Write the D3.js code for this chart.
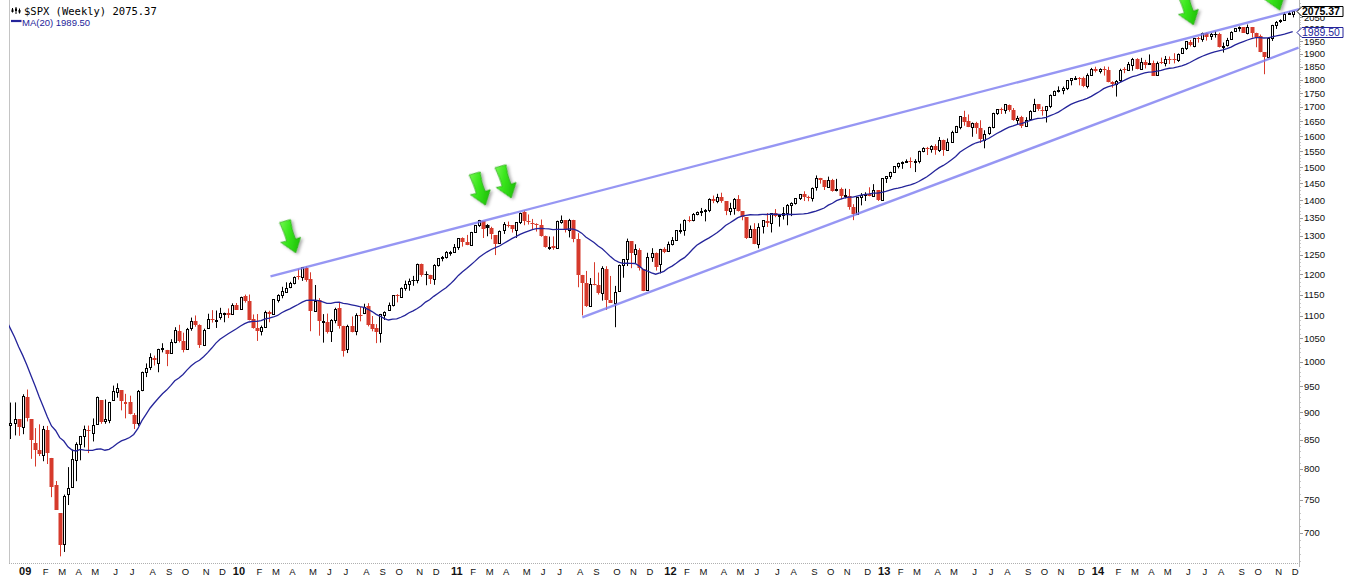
<!DOCTYPE html>
<html><head><meta charset="utf-8">
<script src="https://cdn.jsdelivr.net/npm/d3@7"></script>
<style>body{margin:0;background:#fff}svg{display:block}</style>
</head><body><svg id="chart" width="1357" height="583"></svg>
<script>
// ---------------- DATA ----------------
const firstWeekEnd = "2008-12-12";   // weekly bars, one per week
// 20 weekly closes before the first bar (Jul 25 - Dec 5 2008), needed for MA(20)
const priorCloses = [1257.76,1260.31,1296.32,1298.20,1292.20,1282.83,1242.31,1251.70,1255.08,1213.27,
  1099.23,899.22,940.55,876.77,968.75,930.99,873.29,800.03,896.24,876.07];

const opens = [
 876.0,879.7,887.2,
 872.4,929.2,887.1,845.0,832.5,823.1,868.2,818.5,773.3,729.6,684.0,758.8,771.0,814.9,842.3,856.9,868.3,862.8,879.2,922.9,884.2,886.1,923.3,940.0,942.5,918.1,920.0,894.3,879.6,942.1,979.0,990.2,1008.9,998.2,1026.6,1025.2,1019.4,1041.5,1066.6,1043.7,1026.9,1072.1,1088.4,1080.4,1036.2,1072.6,1094.1,1091.2,1098.9,1105.5,1107.8,1105.0,1125.5,
 1116.6,1146.0,1136.0,1092.4,1073.9,1065.5,1076.0,1110.0,1105.4,1138.4,1148.5,1157.3,1167.7,1178.7,1194.9,1192.1,1217.1,1188.6,1111.6,1136.5,1087.3,1087.3,1065.8,1091.2,1117.7,1076.4,1028.1,1077.2,1066.0,1102.9,1107.5,1122.8,1081.2,1073.4,1062.9,1102.6,1113.4,1126.6,1148.6,1144.9,1165.3,1176.8,1184.7,1185.7,1225.6,1200.4,1198.1,1189.1,1223.2,1241.8,1243.7,1254.7,
 1257.6,1270.8,1293.2,1283.3,1276.5,1311.9,1329.6,1340.4,1328.6,1322.7,1301.2,1281.6,1315.5,1329.5,1329.0,1315.9,1337.9,1365.2,1340.2,1334.8,1333.1,1331.1,1300.3,1271.3,1272.5,1268.4,1339.6,1343.3,1315.9,1344.3,1292.6,1198.5,1179.2,1123.6,1177.0,1173.0,1153.5,1214.0,1136.9,1131.2,1158.2,1224.5,1238.7,1285.0,1253.2,1263.2,1212.2,1161.4,1244.3,1255.1,1225.7,1265.0,
 1258.9,1277.8,1290.2,1315.3,1316.2,1344.3,1342.6,1361.2,1365.2,1369.6,1370.8,1404.2,1397.1,1408.5,1397.5,1370.3,1378.5,1403.4,1368.8,1351.9,1295.7,1318.9,1277.8,1325.9,1342.4,1334.9,1362.3,1354.7,1356.5,1362.3,1385.9,1391.0,1405.9,1418.1,1411.1,1406.5,1438.4,1465.4,1460.3,1440.9,1461.4,1429.0,1433.2,1412.0,1414.0,1380.1,1359.9,1409.0,1416.3,1418.1,1413.5,1430.1,
 1402.4,1466.5,1472.1,1486.0,1503.0,1513.2,1517.9,1519.8,1515.6,1518.2,1551.2,1560.7,1556.9,1569.2,1553.3,1588.8,1555.3,1582.3,1614.4,1632.1,1665.7,1652.6,1631.7,1644.7,1626.7,1588.8,1609.8,1632.0,1679.6,1692.1,1690.3,1708.0,1691.7,1656.0,1664.3,1635.9,1656.9,1688.0,1709.9,1691.7,1690.5,1702.6,1745.2,1759.4,1762.0,1769.7,1798.8,1804.8,1806.6,1806.6,1775.4,1818.3,
 1842.0,1832.3,1842.3,1837.8,1791.0,1782.7,1798.0,1838.8,1836.8,1857.7,1878.3,1841.1,1867.7,1859.2,1865.1,1816.3,1865.8,1864.2,1879.4,1880.0,1876.7,1902.0,1923.9,1948.0,1930.0,1962.9,1960.8,1984.2,1969.8,1978.7,1979.0,1926.2,1933.4,1958.4,1992.6,2004.1,2007.2,1986.0,2009.1,1982.8,1971.0,1905.7,1886.8,1962.9,2018.2,2032.4,2039.7,2064.7,2065.8
];
const highs = [
 918.6,918.9,887.4,
 934.7,943.9,887.1,871.0,877.9,875.0,875.0,818.5,780.1,729.6,758.3,803.0,833.0,845.6,856.9,875.6,875.6,888.7,930.2,922.9,924.6,920.0,951.7,956.2,942.5,935.5,931.9,898.7,943.0,979.8,996.7,1018.0,1013.1,1027.6,1039.5,1025.2,1048.2,1074.8,1080.2,1062.6,1073.2,1096.6,1101.4,1081.3,1071.5,1105.4,1113.7,1112.8,1119.1,1107.9,1117.7,1129.6,1130.4,
 1145.4,1150.4,1150.5,1103.7,1104.7,1078.5,1112.4,1112.3,1139.0,1151.1,1169.2,1180.2,1181.4,1194.7,1213.9,1217.3,1219.8,1205.1,1173.6,1141.9,1104.5,1105.7,1093.0,1119.2,1131.2,1078.0,1080.3,1099.1,1106.4,1120.9,1128.7,1130.0,1100.1,1081.6,1105.1,1110.9,1131.5,1148.9,1151.4,1167.7,1184.4,1189.4,1196.1,1227.1,1227.1,1207.4,1198.9,1225.6,1240.4,1246.7,1259.4,1260.0,
 1278.2,1293.5,1296.1,1302.7,1311.0,1330.0,1344.1,1340.4,1332.3,1325.0,1301.2,1314.8,1337.9,1339.5,1329.0,1337.5,1364.6,1370.6,1359.4,1346.8,1334.6,1345.2,1300.6,1298.3,1298.6,1342.0,1356.5,1343.3,1347.0,1344.3,1307.4,1198.6,1208.5,1190.7,1230.7,1204.4,1220.4,1220.4,1195.9,1171.4,1224.6,1238.3,1292.7,1285.0,1277.6,1267.0,1212.2,1255.1,1267.1,1255.8,1265.4,1269.4,
 1284.6,1296.8,1315.5,1333.5,1345.3,1354.3,1363.4,1367.8,1378.0,1374.8,1405.9,1414.0,1419.2,1422.4,1397.5,1392.8,1406.6,1415.3,1368.8,1351.9,1328.5,1334.9,1334.7,1343.3,1363.5,1362.2,1374.8,1356.8,1380.4,1389.2,1394.2,1406.3,1418.7,1426.7,1413.5,1438.0,1474.5,1467.1,1460.3,1470.9,1464.0,1464.0,1437.6,1434.3,1433.4,1388.8,1409.2,1421.2,1423.7,1438.6,1448.0,1430.1,
 1466.5,1472.3,1486.0,1503.3,1514.4,1518.3,1524.7,1530.9,1525.3,1552.5,1563.6,1564.9,1570.3,1573.7,1597.4,1588.8,1592.6,1618.5,1635.0,1667.5,1687.2,1674.2,1646.5,1648.7,1654.2,1620.1,1632.1,1680.2,1693.1,1698.4,1709.7,1709.2,1696.8,1669.5,1669.5,1664.8,1689.0,1729.9,1711.2,1701.9,1703.4,1745.3,1759.8,1775.2,1774.5,1798.2,1804.8,1813.6,1810.0,1811.5,1823.8,1844.9,
 1849.4,1843.2,1850.8,1849.3,1794.2,1798.8,1841.7,1847.5,1867.9,1883.6,1882.4,1884.0,1875.9,1897.3,1873.2,1869.6,1884.9,1891.3,1889.1,1902.2,1901.3,1924.0,1949.5,1955.6,1963.9,1968.2,1985.6,1985.6,1983.9,1991.4,1984.9,1945.2,1964.0,1991.0,2005.0,2011.2,2007.7,2019.3,2009.1,1985.2,1977.6,1905.7,1965.3,2018.2,2034.3,2041.3,2071.5,2075.8,2075.8
];
const lows = [
 851.4,857.9,857.1,
 860.0,883.2,817.0,804.0,821.7,812.9,808.2,754.3,734.5,666.8,672.9,742.0,771.0,779.8,814.5,836.7,826.8,847.1,878.9,878.9,878.9,880.0,923.3,928.0,903.8,888.9,896.4,869.3,875.3,940.6,968.7,983.0,992.4,978.5,1019.9,991.0,1017.4,1039.3,1041.2,1019.9,1025.2,1066.9,1075.8,1029.4,1033.4,1072.6,1085.2,1073.1,1091.8,1085.9,1095.4,1102.5,1114.8,
 1114.0,1131.4,1090.2,1071.6,1044.5,1056.5,1075.9,1086.0,1105.4,1131.6,1141.5,1156.3,1165.8,1175.1,1186.8,1183.7,1181.6,1065.8,1111.6,1055.9,1040.8,1060.7,1042.2,1083.6,1071.6,1010.9,1018.4,1063.3,1056.9,1088.0,1104.6,1076.6,1065.6,1039.7,1040.9,1091.1,1113.4,1122.3,1131.9,1144.9,1159.7,1159.7,1171.7,1177.7,1194.1,1173.0,1176.0,1174.0,1219.5,1232.9,1240.1,1247.4,
 1257.6,1262.7,1271.3,1275.1,1276.5,1311.0,1324.6,1294.3,1299.0,1291.0,1249.1,1281.6,1305.3,1322.9,1309.1,1294.7,1332.5,1329.2,1331.1,1318.5,1311.8,1297.9,1268.5,1262.7,1262.9,1268.4,1333.5,1309.3,1295.9,1282.9,1168.1,1101.5,1121.1,1121.1,1172.9,1150.5,1136.1,1114.2,1131.1,1074.8,1158.2,1191.5,1220.9,1215.4,1226.6,1209.4,1158.6,1161.4,1231.5,1209.5,1202.4,1254.1,
 1258.9,1274.4,1290.2,1306.1,1300.5,1337.5,1340.0,1357.0,1354.9,1340.0,1365.9,1391.7,1391.6,1392.9,1357.4,1357.4,1358.8,1367.8,1343.1,1291.7,1295.7,1277.8,1266.7,1306.6,1324.4,1309.3,1351.6,1325.4,1345.1,1329.2,1354.7,1387.6,1401.0,1398.0,1397.4,1396.6,1428.6,1449.6,1430.5,1439.0,1425.5,1426.3,1403.3,1405.9,1373.0,1343.4,1359.9,1385.4,1398.1,1411.9,1413.5,1398.1,
 1398.1,1451.6,1463.8,1482.3,1496.3,1495.0,1513.5,1497.3,1485.0,1512.0,1547.4,1538.6,1546.2,1539.5,1548.2,1536.0,1555.3,1581.3,1614.4,1623.5,1635.5,1630.7,1598.2,1608.1,1577.7,1560.3,1604.6,1626.7,1672.8,1676.0,1676.9,1683.9,1652.6,1639.4,1627.5,1633.4,1656.9,1687.9,1687.1,1670.4,1646.5,1696.6,1740.5,1752.7,1746.2,1761.6,1779.1,1798.8,1779.1,1772.3,1767.9,1818.3,
 1827.7,1823.7,1815.5,1790.3,1770.5,1737.9,1791.8,1824.6,1836.8,1834.4,1839.6,1839.5,1842.6,1859.2,1814.4,1814.4,1859.7,1850.6,1859.8,1862.4,1868.1,1900.5,1915.0,1929.1,1925.8,1944.7,1948.0,1952.9,1955.5,1965.1,1925.1,1904.8,1928.8,1958.4,1988.4,1990.1,1985.2,1978.6,1965.0,1926.0,1906.1,1820.7,1886.8,1951.4,2001.0,2025.9,2034.2,2062.5,2049.6
];
const closes = [
 879.73,887.88,872.80,
 931.80,890.35,850.12,831.95,825.88,868.60,826.84,770.05,735.09,683.38,756.55,768.54,815.94,842.50,856.56,869.60,866.23,877.52,929.23,882.88,887.00,919.14,940.09,946.21,921.23,918.90,896.42,879.13,940.38,979.26,987.48,1010.48,1004.09,1026.13,1028.93,1016.40,1042.73,1068.30,1044.38,1025.21,1071.49,1087.68,1079.60,1036.19,1069.30,1093.48,1091.38,1091.49,1105.98,1106.41,1102.47,1126.48,1115.10,
 1144.98,1136.03,1091.76,1073.87,1066.19,1075.51,1109.17,1104.49,1138.70,1149.99,1159.90,1166.59,1178.10,1194.37,1192.13,1217.28,1186.69,1110.88,1135.68,1087.69,1089.41,1064.88,1091.60,1117.51,1076.76,1022.58,1077.96,1064.88,1102.66,1101.60,1121.64,1079.25,1071.69,1064.59,1104.51,1109.55,1125.59,1148.67,1146.24,1165.15,1176.19,1183.08,1183.26,1225.85,1199.21,1199.73,1189.40,1224.71,1240.40,1243.91,1256.77,1257.64,
 1271.50,1293.24,1283.35,1276.34,1310.87,1329.15,1343.01,1319.88,1321.15,1304.28,1279.20,1313.80,1332.41,1328.17,1319.68,1337.38,1363.61,1340.20,1337.77,1333.27,1331.10,1300.16,1270.98,1271.50,1268.45,1339.67,1343.80,1316.14,1345.02,1292.28,1199.38,1178.81,1123.53,1176.80,1173.97,1154.23,1216.01,1136.43,1131.42,1155.46,1224.58,1238.25,1285.09,1253.23,1263.85,1215.65,1158.67,1244.28,1255.19,1219.66,1265.33,1257.60,
 1277.81,1289.09,1315.38,1316.33,1344.90,1342.64,1361.23,1365.74,1369.63,1370.87,1404.17,1397.11,1408.47,1398.08,1370.26,1378.53,1403.36,1369.10,1353.39,1295.22,1317.82,1278.04,1325.66,1342.84,1335.02,1362.16,1354.68,1356.78,1362.66,1385.97,1390.99,1405.87,1418.16,1411.13,1406.58,1437.92,1465.77,1460.15,1440.67,1460.93,1428.59,1433.19,1411.94,1414.20,1379.85,1359.88,1409.15,1416.18,1418.07,1413.58,1430.15,1402.43,
 1466.47,1472.05,1485.98,1502.96,1513.17,1517.93,1519.79,1515.60,1518.20,1551.18,1560.70,1556.89,1569.19,1553.28,1588.85,1555.25,1582.24,1614.42,1633.70,1667.47,1649.60,1630.74,1643.38,1626.73,1592.43,1606.28,1631.89,1680.19,1692.09,1691.65,1709.67,1691.42,1655.83,1663.50,1632.97,1655.17,1687.99,1709.91,1691.75,1690.50,1703.20,1744.50,1759.77,1761.64,1770.61,1798.18,1804.76,1805.81,1805.09,1775.32,1818.32,1841.40,
 1831.37,1842.37,1838.70,1790.29,1782.59,1797.02,1838.63,1836.25,1859.45,1878.04,1841.13,1866.52,1857.62,1865.09,1815.69,1864.85,1863.40,1881.14,1878.48,1877.86,1900.53,1923.57,1949.44,1936.16,1962.87,1960.96,1985.44,1967.57,1978.22,1978.34,1925.15,1931.59,1955.06,1988.40,2003.37,2007.71,1985.54,2010.40,1982.85,1967.90,1906.13,1886.76,1964.58,2018.05,2031.92,2039.82,2063.50,2067.56,2075.37
];

const yTickValues = [700,750,800,850,900,950,1000,1050,1100,1150,1200,1250,1300,1350,1400,1450,1500,1550,1600,1650,1700,1750,1800,1850,1900,1950,2000,2050];
const monthLetters = ["J","F","M","A","M","J","J","A","S","O","N","D"];
const titleText = "$SPX (Weekly) 2075.37";
const maPeriod = 20;
// trend lines drawn on the chart: [date, price] end points
const upperTrend = [["2010-02-28", 1195], ["2015-01-04", 2098]];
const lowerTrend = [["2011-08-13", 1097], ["2014-12-15", 1924]];
// green annotation arrows: tip position [date, price]
const arrowTips = [["2010-04-12", 1255], ["2011-03-01", 1386], ["2011-04-14", 1407], ["2014-06-19", 2018], ["2014-11-13", 2081]];

// ---------------- CHART ----------------
const svg = d3.select("#chart");
const parse = d3.utcParse("%Y-%m-%d");
const n = closes.length;
const d0 = parse(firstWeekEnd);
const dates = d3.range(n).map(i => d3.utcDay.offset(d0, 7 * i));
const L = 9, R = 1299, T = 0, B = 563;
const RED = "#d63a2c", NAVY = "#24249a";

const x = d3.scaleUtc().domain([dates[0], dates[n - 1]]).range([10.4, 1292.7]);
const y = d3.scaleLog().domain([657.6, 2112]).range([B, 3]);

const defs = svg.append("defs");
defs.append("clipPath").attr("id", "plotClip").append("rect")
  .attr("x", L).attr("y", T).attr("width", R - L).attr("height", B - T);
const grad = defs.append("linearGradient").attr("id", "arrowGrad")
  .attr("x1", 0).attr("y1", 0).attr("x2", 1).attr("y2", 1);
grad.append("stop").attr("offset", "0%").attr("stop-color", "#8cff66");
grad.append("stop").attr("offset", "45%").attr("stop-color", "#39e61c");
grad.append("stop").attr("offset", "100%").attr("stop-color", "#14b000");
const flt = defs.append("filter").attr("id", "shadow").attr("x", "-50%").attr("y", "-50%").attr("width", "200%").attr("height", "200%");
flt.append("feDropShadow").attr("dx", 1.5).attr("dy", 2).attr("stdDeviation", 1.4)
  .attr("flood-color", "#000").attr("flood-opacity", 0.35);

// frame / axes
svg.append("line").attr("x1", L + 0.5).attr("x2", L + 0.5).attr("y1", 0).attr("y2", B)
  .attr("stroke", "#c4c4c4");
svg.append("line").attr("x1", R + 0.5).attr("x2", R + 0.5).attr("y1", 0).attr("y2", B + 4)
  .attr("stroke", "#b4b4b4");
svg.append("line").attr("x1", L).attr("x2", R).attr("y1", B + 0.5).attr("y2", B + 0.5)
  .attr("stroke", "#b0b0b0").attr("stroke-dasharray", "1,1");

// minor y ticks (dotted look)
const yMinor = d3.range(660, 2111, 10);
svg.append("g").selectAll("line").data(yMinor).join("line")
  .attr("x1", R + 1).attr("x2", R + 2).attr("y1", d => Math.round(y(d)) + 0.5).attr("y2", d => Math.round(y(d)) + 0.5)
  .attr("stroke", "#c8c8c8");
// major y ticks + labels
const yAxisG = svg.append("g");
yAxisG.selectAll("line").data(yTickValues).join("line")
  .attr("x1", R + 1).attr("x2", R + 4).attr("y1", d => Math.round(y(d)) + 0.5).attr("y2", d => Math.round(y(d)) + 0.5)
  .attr("stroke", "#999");
yAxisG.selectAll("text").data(yTickValues).join("text")
  .attr("x", R + 5).attr("y", d => y(d)).attr("dy", "0.35em")
  .attr("font-family", "Liberation Sans, Arial, sans-serif").attr("font-size", "9.5px")
  .attr("fill", "#111").text(d => d);

// x labels at first bar of each month
const xLabels = [];
for (let i = 1; i < n; i++) {
  if (dates[i].getUTCMonth() !== dates[i - 1].getUTCMonth()) {
    const m = dates[i].getUTCMonth();
    xLabels.push({ d: dates[i], year: m === 0,
      text: m === 0 ? String(dates[i].getUTCFullYear()).slice(2) : monthLetters[m] });
  }
}
svg.append("g").selectAll("text").data(xLabels).join("text")
  .attr("x", d => x(d.d) + 2.5).attr("y", 575).attr("text-anchor", "middle")
  .attr("font-family", "Liberation Sans, Arial, sans-serif")
  .attr("font-size", d => d.year ? "11px" : "9.5px")
  .attr("font-weight", d => d.year ? "bold" : "normal")
  .attr("fill", "#111").text(d => d.text);

// candles
const cg = svg.append("g").attr("clip-path", "url(#plotClip)");
const bars = d3.range(n).map(i => {
  const prev = i > 0 ? closes[i - 1] : priorCloses[priorCloses.length - 1];
  return { i, d: dates[i], o: opens[i], h: highs[i], l: lows[i], c: closes[i],
           col: closes[i] >= prev ? "#000" : RED, hollow: closes[i] >= opens[i] };
});
bars.forEach(b => {
  const cx = Math.round(x(b.d)) + 0.5;
  const hi = Math.max(b.h, b.o, b.c), lo = Math.min(b.l, b.o, b.c);
  const yTop = y(Math.max(b.o, b.c)), yBot = y(Math.min(b.o, b.c));
  if (b.hollow) {
    const top = Math.round(yTop) + 0.5;
    const bot = Math.max(top + 1, Math.round(yBot) + 0.5);
    cg.append("line").attr("x1", cx).attr("x2", cx).attr("y1", y(hi)).attr("y2", top).attr("stroke", b.col);
    cg.append("line").attr("x1", cx).attr("x2", cx).attr("y1", bot).attr("y2", y(lo)).attr("stroke", b.col);
    cg.append("rect").attr("x", cx - 1).attr("y", top).attr("width", 2).attr("height", bot - top)
      .attr("fill", "#fff").attr("stroke", b.col).attr("stroke-width", 1);
  } else {
    cg.append("line").attr("x1", cx).attr("x2", cx).attr("y1", y(hi)).attr("y2", y(lo)).attr("stroke", b.col);
    const t = Math.round(yTop);
    cg.append("rect").attr("x", cx - 2).attr("y", t).attr("width", 4)
      .attr("height", Math.max(1, Math.round(yBot) - t)).attr("fill", b.col);
  }
});

// MA(20)
const allCloses = priorCloses.concat(closes);
const maPts = [];
for (let j = maPeriod - 1; j < allCloses.length; j++) {
  const v = d3.mean(allCloses.slice(j - maPeriod + 1, j + 1));
  maPts.push({ d: d3.utcDay.offset(d0, 7 * (j - priorCloses.length)), v });
}
cg.append("path").datum(maPts)
  .attr("d", d3.line().x(p => x(p.d)).y(p => y(p.v)))
  .attr("fill", "none").attr("stroke", NAVY).attr("stroke-width", 1.3);
const lastMA = maPts[maPts.length - 1].v;

// trend lines
[upperTrend, lowerTrend].forEach(tl => {
  cg.append("line")
    .attr("x1", x(parse(tl[0][0]))).attr("y1", y(tl[0][1]))
    .attr("x2", x(parse(tl[1][0]))).attr("y2", y(tl[1][1]))
    .attr("stroke", "#7c7cf0").attr("stroke-opacity", 0.8).attr("stroke-width", 2.4);
});

// green arrows
const arrowPath = "M-5,-34 C-4,-26 -4,-20 -4.5,-14 L-10.5,-15 L0,0 L10,-13 L4.5,-13 C4,-20 5,-27 6.5,-33 Z";
svg.append("g").selectAll("path").data(arrowTips).join("path")
  .attr("d", arrowPath)
  .attr("transform", a => `translate(${x(parse(a[0]))},${y(a[1])}) rotate(-20)`)
  .attr("fill", "url(#arrowGrad)").attr("stroke", "#1a9e06").attr("stroke-width", 0.6)
  .attr("filter", "url(#shadow)");

// value tags
function tag(v, label, color, bold) {
  const yy = Math.round(y(v)) + 0.5;
  const g = svg.append("g");
  g.append("path")
    .attr("d", `M${R - 2},${yy} L${R + 3},${yy - 5} L${R + 44},${yy - 5} L${R + 44},${yy + 5} L${R + 3},${yy + 5} Z`)
    .attr("fill", "#fff").attr("stroke", color).attr("stroke-width", 1);
  g.append("text").attr("x", R + 3).attr("y", yy).attr("dy", "0.36em")
    .attr("font-family", "Liberation Sans, Arial, sans-serif").attr("font-size", "10.5px")
    .attr("font-weight", bold ? "bold" : "normal").attr("fill", color).text(label);
}
tag(lastMA, d3.format(".2f")(lastMA), NAVY, false);
tag(closes[n - 1], d3.format(".2f")(closes[n - 1]), "#000", true);

// title + legend
const icon = svg.append("g").attr("fill", "#000").attr("stroke", "#000");
[[12, 8, 12.5], [15.5, 7, 14], [19, 8.5, 13.5]].forEach(c => {
  icon.append("line").attr("x1", c[0] + 0.5).attr("x2", c[0] + 0.5).attr("y1", c[1]).attr("y2", c[2]).attr("stroke-width", 1);
  icon.append("rect").attr("x", c[0] - 0.5).attr("y", c[1] + 1.5).attr("width", 2).attr("height", 2.5).attr("stroke", "none");
});
svg.append("text").attr("x", 24).attr("y", 15)
  .attr("font-family", "DejaVu Sans Mono, monospace").attr("font-size", "10.5px")
  .attr("fill", "#000").text(titleText);
svg.append("line").attr("x1", 11).attr("x2", 21.5).attr("y1", 21).attr("y2", 21)
  .attr("stroke", NAVY).attr("stroke-width", 2.2);
svg.append("text").attr("x", 22).attr("y", 25.5)
  .attr("font-family", "Liberation Sans, Arial, sans-serif").attr("font-size", "9.5px")
  .attr("fill", NAVY).text(`MA(${maPeriod}) ${d3.format(".2f")(lastMA)}`);
</script>
</body></html>
